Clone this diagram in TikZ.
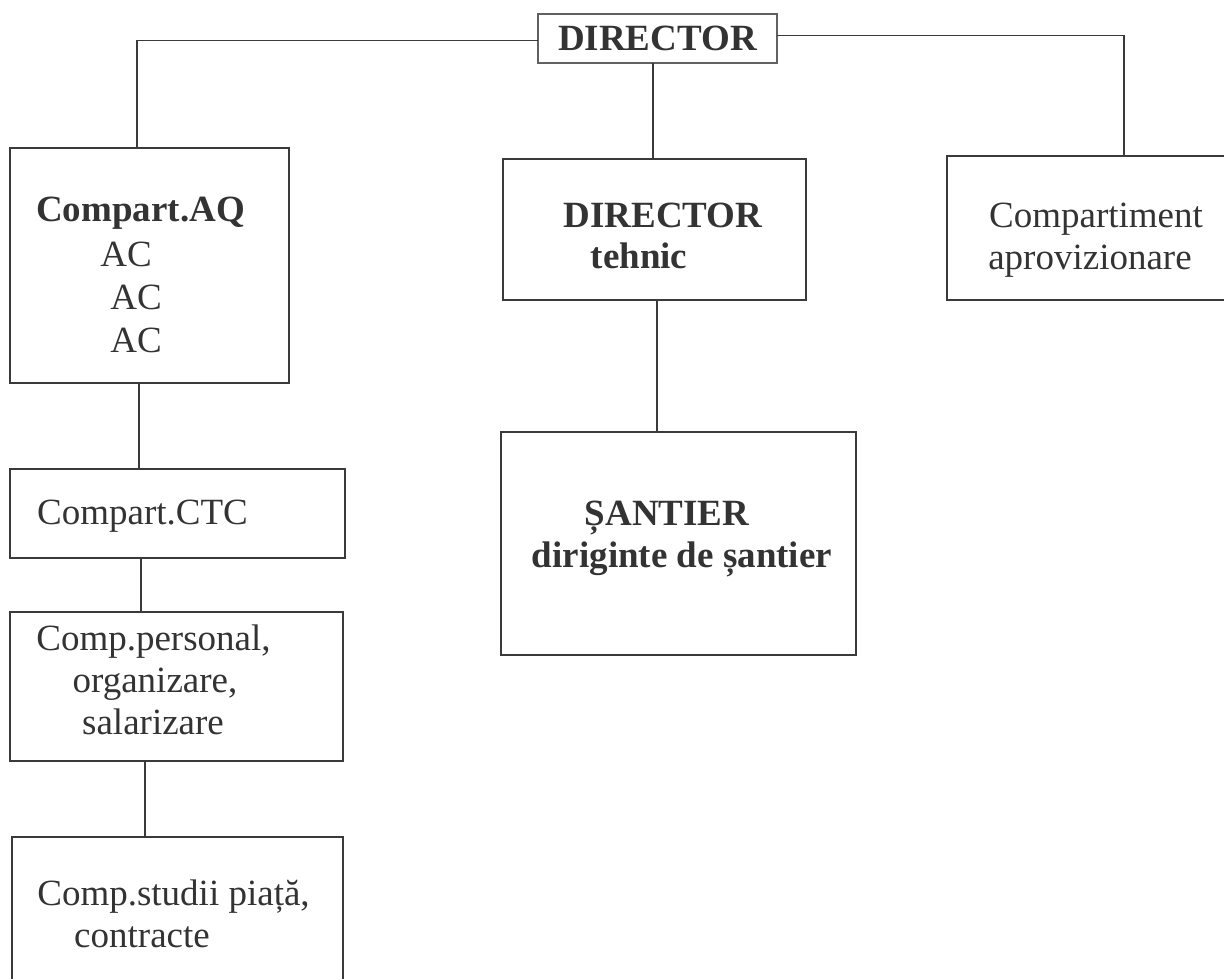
\documentclass[tikz,border=0pt]{standalone}
\usepackage{fontspec}
\setmainfont{Liberation Serif}
\definecolor{ink}{HTML}{333333}
\definecolor{lin}{HTML}{3A3A3A}
\begin{document}
\begin{tikzpicture}[x=1pt,y=-1pt,
  box/.style={draw=lin, line width=2pt, rectangle, inner sep=0pt, outer sep=0pt, anchor=north west},
  txt/.style={text=ink, inner sep=0pt, anchor=base, font=\fontsize{37}{43}\selectfont},
  btxt/.style={txt, font=\fontsize{37}{43}\selectfont\bfseries},
  conn/.style={draw=lin, line width=1.8pt}]
\useasboundingbox (0,0) rectangle (1224,979);
% boxes
\node[box, line width=1.6pt, draw=lin!80, minimum width=239pt, minimum height=49pt, text=ink, font=\fontsize{37}{43}\selectfont\bfseries, align=center] (dir) at (538,14) {DIRECTOR};
\node[box, minimum width=279pt, minimum height=235pt] (aq) at (10,148) {};
\node[box, minimum width=335pt, minimum height=89pt] (ctc) at (10,469) {};
\node[box, minimum width=333pt, minimum height=149pt] (per) at (10,612) {};
\node[box, minimum width=331pt, minimum height=163pt] (stu) at (12,837) {};
\node[box, minimum width=303pt, minimum height=141pt] (teh) at (503,159) {};
\node[box, minimum width=355pt, minimum height=223pt] (san) at (501,432) {};
\node[box, minimum width=283pt, minimum height=144pt] (comp) at (947,156) {};
% texts
\node[btxt] (taq) at (140.5,222) {Compart.AQ};
\node[txt] (tac1) at (126,266) {AC};
\node[txt] (tac2) at (136,309) {AC};
\node[txt] (tac3) at (136,352) {AC};
\node[txt, anchor=base west] (tctc) at (37,524) {Compart.CTC};
\node[txt] (tper1) at (153.5,650) {Comp.personal,};
\node[txt] (tper2) at (155,692) {organizare,};
\node[txt] (tper3) at (153,734) {salarizare};
\node[txt] (tstu1) at (173.5,905) {Comp.studii piață,};
\node[txt] (tstu2) at (142,947) {contracte};
\node[btxt] (tteh1) at (663,227) {DIRECTOR};
\node[btxt] (tteh2) at (639,268) {tehnic};
\node[btxt] (tsan1) at (667,525) {ȘANTIER};
\node[btxt] (tsan2) at (682,567) {diriginte de șantier};
\node[txt] (tcomp1) at (1096,227) {Compartiment};
\node[txt] (tcomp2) at (1090,269) {aprovizionare};
% connectors
\draw[conn] ([yshift=-2pt]dir.west) -| ([xshift=-12.5pt]aq.north);
\draw[conn] ([yshift=3pt]dir.east) -| ([xshift=35.5pt]comp.north);
\draw[conn] ([xshift=-4.5pt]dir.south) -- ([xshift=-4.5pt]dir.south |- teh.north);
\draw[conn] ([xshift=2.5pt]teh.south) -- ([xshift=2.5pt]teh.south |- san.north);
\draw[conn] ([xshift=-10.5pt]aq.south) -- ([xshift=-10.5pt]aq.south |- ctc.north);
\draw[conn] ([xshift=-36.5pt]ctc.south) -- ([xshift=-36.5pt]ctc.south |- per.north);
\draw[conn] ([xshift=-31.5pt]per.south) -- ([xshift=-31.5pt]per.south |- stu.north);
\end{tikzpicture}
\end{document}
